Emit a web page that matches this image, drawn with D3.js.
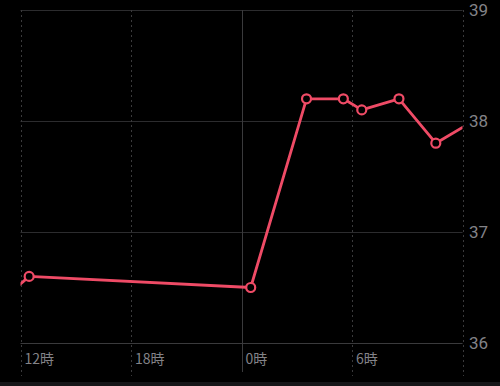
<!DOCTYPE html>
<html><head><meta charset="utf-8">
<script src="https://cdn.jsdelivr.net/npm/d3@7"></script>
<style>html,body{margin:0;padding:0;background:#000;}svg{display:block;}</style>
</head><body>
<svg id="c" width="500" height="386"></svg>
<script>
// hours since 0:00 of day 1 (24 = midnight of day 2)
const hours = [11.5, 12.47, 24.5, 27.53, 29.53, 30.53, 32.55, 34.55, 36.6];
const temps = [36.46, 36.60, 36.50, 38.20, 38.20, 38.10, 38.20, 37.80, 38.00];
const xTickHours = [12, 18, 24, 30, 36];
const xTickLabels = ["12時", "18時", "0時", "6時", ""];
const yTicks = [36, 37, 38, 39];

(function(){
const svg = d3.select("#c");
const mLeft = 20.5, mRight = 462.5, mTop = 10, mBottom = 343;
const x = d3.scaleLinear().domain([12, 36]).range([mLeft, mRight]);
const y = d3.scaleLinear().domain([36, 39]).range([mBottom, mTop]);

svg.append("rect").attr("x",0).attr("y",382).attr("width",500).attr("height",4).attr("fill","#161618");

// horizontal grid
svg.append("g").selectAll("line").data(yTicks).join("line")
  .attr("x1", mLeft).attr("x2", mRight)
  .attr("y1", d => Math.round(y(d)) + 0.5).attr("y2", d => Math.round(y(d)) + 0.5)
  .attr("stroke", d => d === 36 ? "#3a3a3c" : "#2c2c2e").attr("stroke-width", 1);

// vertical grid
svg.append("g").selectAll("line").data(xTickHours).join("line")
  .attr("x1", d => Math.round(x(d)) + 0.5).attr("x2", d => Math.round(x(d)) + 0.5)
  .attr("y1", mTop).attr("y2", d => d === 24 ? 372 : 376)
  .attr("stroke", "#3a3a3c")
  .attr("stroke-dasharray", d => d === 24 ? null : "2,3")
  .attr("stroke-width", 1);

// y labels
svg.append("g").selectAll("text").data(yTicks).join("text")
  .attr("x", 469).attr("y", d => y(d) + 6)
  .attr("fill", "#838388").attr("font-family", "Roboto, 'Noto Sans', sans-serif")
  .attr("font-size", 17).text(d => d);

// x labels
svg.append("g").selectAll("text").data(xTickHours.map((h,i)=>({h, l: xTickLabels[i]}))).join("text")
  .attr("x", d => x(d.h) + 4).attr("y", 364)
  .attr("fill", "#838388").attr("font-family", "'Noto Sans CJK JP', sans-serif")
  .attr("font-size", 14).text(d => d.l);

const data = hours.map((h, i) => ({h, t: temps[i]}));
svg.append("defs").append("clipPath").attr("id","clip")
  .append("rect").attr("x", mLeft).attr("y", 0).attr("width", mRight - mLeft).attr("height", 386);

const g = svg.append("g").attr("clip-path", "url(#clip)");
g.append("path").datum(data)
  .attr("d", d3.line().x(d => x(d.h)).y(d => y(d.t)))
  .attr("fill", "none").attr("stroke", "#ef4b66").attr("stroke-width", 2.8)
  .attr("stroke-linejoin", "round");
g.selectAll("circle").data(data.filter(d => d.h >= 12 && d.h <= 36)).join("circle")
  .attr("cx", d => x(d.h)).attr("cy", d => y(d.t)).attr("r", 4.5)
  .attr("fill", "#000").attr("stroke", "#ef4b66").attr("stroke-width", 2.2);
})();
</script>
</body></html>
